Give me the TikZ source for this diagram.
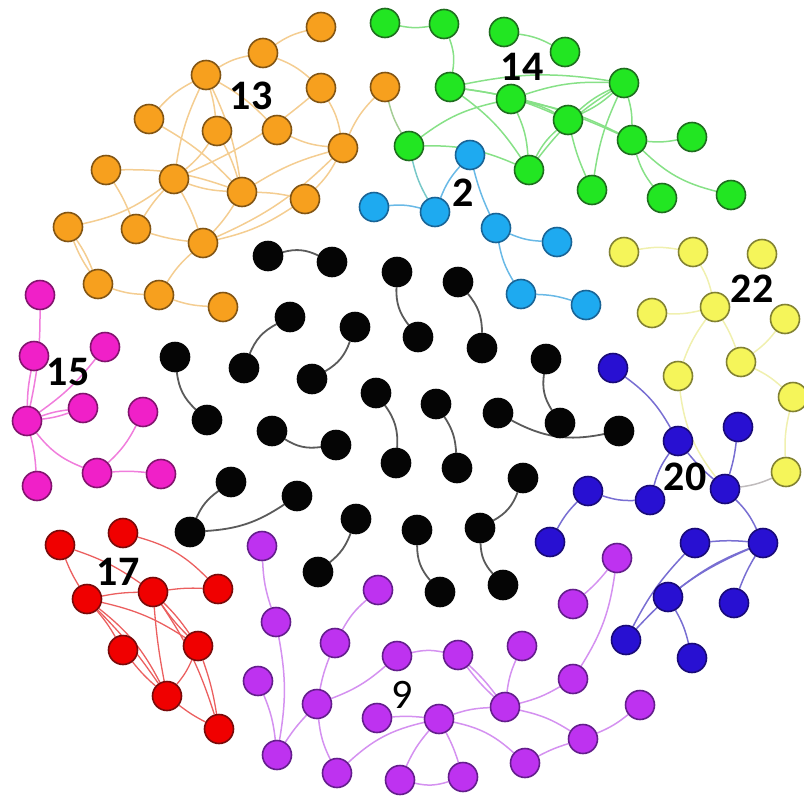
\documentclass[tikz,border=0pt]{standalone}
\usepackage{fontspec}
\setmainfont{Carlito}
\usetikzlibrary{backgrounds}
\definecolor{orF}{RGB}{247,160,30}\definecolor{orD}{RGB}{130,85,20}\definecolor{orE}{RGB}{244,205,145}
\definecolor{grF}{RGB}{34,230,34}\definecolor{grD}{RGB}{30,110,30}\definecolor{grE}{RGB}{135,225,135}
\definecolor{blF}{RGB}{30,170,240}\definecolor{blD}{RGB}{25,100,150}\definecolor{blE}{RGB}{105,185,230}
\definecolor{yeF}{RGB}{245,245,90}\definecolor{yeD}{RGB}{130,130,50}\definecolor{yeE}{RGB}{240,240,175}
\definecolor{maF}{RGB}{240,32,200}\definecolor{maD}{RGB}{130,20,110}\definecolor{maE}{RGB}{240,125,220}
\definecolor{reF}{RGB}{240,0,0}\definecolor{reD}{RGB}{120,10,10}\definecolor{reE}{RGB}{235,95,95}
\definecolor{puF}{RGB}{190,50,240}\definecolor{puD}{RGB}{100,30,140}\definecolor{puE}{RGB}{212,145,240}
\definecolor{dbF}{RGB}{40,16,210}\definecolor{dbD}{RGB}{25,10,120}\definecolor{dbE}{RGB}{120,110,210}
\definecolor{bkF}{RGB}{5,5,5}\definecolor{bkE}{RGB}{90,90,90}
\definecolor{mixE}{RGB}{165,205,150}\definecolor{tealE}{RGB}{120,200,200}
\begin{document}
\begin{tikzpicture}[x=1pt,y=-1pt,
  nd/.style={circle,inner sep=0pt,minimum size=29pt,line width=1.6pt},
  on/.style={nd,fill=orF,draw=orD}, oe/.style={draw=orE,line width=1.5pt},
  gn/.style={nd,fill=grF,draw=grD}, ge/.style={draw=grE,line width=1.5pt},
  bn/.style={nd,fill=blF,draw=blD}, be/.style={draw=blE,line width=1.5pt},
  yn/.style={nd,fill=yeF,draw=yeD}, ye/.style={draw=yeE,line width=1.5pt},
  mn/.style={nd,fill=maF,draw=maD}, me/.style={draw=maE,line width=1.5pt},
  rn/.style={nd,fill=reF,draw=reD}, re/.style={draw=reE,line width=1.3pt},
  pn/.style={nd,fill=puF,draw=puD}, pe/.style={draw=puE,line width=1.5pt},
  dn/.style={nd,fill=dbF,draw=dbD}, de/.style={draw=dbE,line width=1.5pt},
  kn/.style={nd,fill=bkF,draw=bkF}, ke/.style={draw=bkE,line width=1.8pt},
  lbl/.style={font=\fontsize{42}{42}\selectfont\bfseries,text=black,inner sep=0pt},
  lblr/.style={font=\fontsize{42}{42}\selectfont,text=black,inner sep=0pt}]
\useasboundingbox (0,0) rectangle (804,801);
% orange
\foreach \n/\x/\y in {o1/321/27,o2/263/53,o3/206/75,o4/321/88,o5/149/119,o6/217/131,o7/277/130,o8/385/87,o9/343/148,o10/106/170,o11/174/179,o12/242/192,o13/305/199,o14/68/227,o15/136/229,o16/203/243,o17/98/284,o18/159/295,o19/223/307}
  \node[on] (\n) at (\x,\y) {};
% green
\foreach \n/\x/\y in {g1/385/23,g2/444/24,g3/504/32,g4/565/52,g5/450/87,g6/511/99,g7/624/83,g8/568/120,g9/632/140,g10/692/137,g11/409/146,g12/529/170,g13/592/190,g14/662/198,g15/731/195}
  \node[gn] (\n) at (\x,\y) {};
% blue
\foreach \n/\x/\y in {b1/470/155,b2/374/207,b3/435/212,b4/496/228,b5/557/242,b6/521/294,b7/586/305}
  \node[bn] (\n) at (\x,\y) {};
% yellow
\foreach \n/\x/\y in {y1/624/252,y2/693/252,y3/762/254,y4/652/313,y5/715/307,y6/785/319,y7/741/362,y8/678/376,y9/793/397,y10/786/472}
  \node[yn] (\n) at (\x,\y) {};
% dark blue
\foreach \n/\x/\y in {d1/613/368,d2/678/441,d3/738/427,d4/588/491,d5/650/500,d6/725/489,d7/550/542,d8/695/543,d9/763/543,d10/668/597,d11/734/603,d12/626/640,d13/692/658}
  \node[dn] (\n) at (\x,\y) {};
% magenta
\foreach \n/\x/\y in {m1/40/295,m2/34/356,m3/105/347,m4/27/421,m5/83/408,m6/143/412,m7/37/486,m8/97/473,m9/161/474}
  \node[mn] (\n) at (\x,\y) {};
% red
\foreach \n/\x/\y in {r1/60/545,r2/123/533,r3/87/599,r4/153/592,r5/218/589,r6/123/650,r7/198/646,r8/167/696,r9/219/729}
  \node[rn] (\n) at (\x,\y) {};
% purple
\foreach \n/\x/\y in {p1/262/546,p2/378/590,p3/617/558,p4/573/604,p5/276/622,p6/335/643,p7/397/656,p8/458/655,p9/522/646,p10/258/681,p11/317/704,p12/573/679,p13/377/718,p14/439/719,p15/505/707,p16/640/705,p17/277/755,p18/337/773,p19/400/780,p20/463/777,p21/525/763,p22/583/739}
  \node[pn] (\n) at (\x,\y) {};
% black
\foreach \n/\x/\y in {k1/268/256,k2/332/262,k3/397/272,k4/418/337,k5/458/282,k6/482/348,k7/290/317,k8/244/368,k9/355/327,k10/312/379,k11/175/357,k12/207/420,k13/546/359,k14/560/423,k15/498/413,k16/619/431,k17/376/393,k18/396/463,k19/436/404,k20/457/468,k21/272/431,k22/336/445,k23/231/482,k24/190/532,k25/297/496,k26/523/478,k27/480/528,k28/503/585,k29/356/519,k30/318/572,k31/417/530,k32/440/592}
  \node[kn] (\n) at (\x,\y) {};

\begin{scope}[on background layer]
% orange edges
\draw[oe] (o1) to[bend right=10] (o2);
\draw[oe] (o2) to[bend right=10] (o3);
\draw[oe] (o2) to[bend left=10] (o4);
\draw[oe] (o3) to[bend right=10] (o5);
\draw[oe] (o3) to[bend left=5] (o6);
\draw[oe] (o3) to[bend left=8] (o12);
\draw[oe] (o3) to[bend right=8] (o11);
\draw[oe] (o3) to[bend left=8] (o7);
\draw[oe] (o4) to[bend left=10] (o9);
\draw[oe] (o4) to[bend left=8] (o11);
\draw[oe] (o5) to[bend left=8] (o12);
\draw[oe] (o6) to[bend left=8] (o11);
\draw[oe] (o6) to[bend left=5] (o12);
\draw[oe] (o7) to[bend right=10] (o9);
\draw[oe] (o8) to[bend right=10] (o9);
\draw[oe] (o9) to[bend left=8] (o13);
\draw[oe] (o9) to[bend right=8] (o12);
\draw[oe] (o9) to[bend left=10] (o16);
\draw[oe] (o10) to[bend left=10] (o12);
\draw[oe] (o10) to[bend left=5] (o15);
\draw[oe] (o11) to[bend left=12] (o14);
\draw[oe] (o11) to[bend right=5] (o15);
\draw[oe] (o11) to[bend left=5] (o16);
\draw[oe] (o11) to[bend right=8] (o12);
\draw[oe] (o12) to[bend left=5] (o13);
\draw[oe] (o12) to[bend left=5] (o16);
\draw[oe] (o13) to[bend left=10] (o16);
\draw[oe] (o14) to[bend left=6] (o17);
\draw[oe] (o14) to[bend right=6] (o17);
\draw[oe] (o15) to[bend right=5] (o16);
\draw[oe] (o16) to[bend right=8] (o18);
\draw[oe] (o17) to[bend right=8] (o18);
\draw[oe] (o18) to[bend right=8] (o19);
% cross edges
\draw[draw=mixE,line width=1.5pt] (o8) to[bend right=8] (g11);
\draw[draw=tealE,line width=1.5pt] (g11) to[bend right=8] (b3);
% green edges
\draw[ge] (g1) to[bend right=10] (g2);
\draw[ge] (g2) to[bend left=15] (g5);
\draw[ge] (g3) to[bend left=10] (g4);
\draw[ge] (g5) to[bend left=10] (g12);
\draw[ge] (g5) to[bend left=8] (g8);
\draw[ge] (g5) to[bend left=8] (g9);
\draw[ge] (g5) to[bend left=10] (g7);
\draw[ge] (g6) to[bend left=8] (g8);
\draw[ge] (g6) to[bend left=10] (g7);
\draw[ge] (g6) to[bend left=10] (g12);
\draw[ge] (g6) to[bend left=8] (g9);
\draw[ge] (g7) to[bend right=8] (g8);
\draw[ge] (g7) to[bend left=8] (g8);
\draw[ge] (g7) to[bend right=10] (g12);
\draw[ge] (g7) to[bend right=8] (g13);
\draw[ge] (g7) to[bend left=8] (g9);
\draw[ge] (g8) to[bend right=10] (g12);
\draw[ge] (g8) to[bend right=5] (g13);
\draw[ge] (g9) to[bend right=8] (g10);
\draw[ge] (g9) to[bend right=10] (g14);
\draw[ge] (g9) to[bend right=15] (g15);
\draw[ge] (g11) to[bend left=12] (g6);
\draw[ge] (g11) to[bend left=12] (g12);
% blue edges
\draw[be] (b2) to[bend left=10] (b3);
\draw[be] (b3) to[bend left=10] (b1);
\draw[be] (b1) to[bend right=5] (b4);
\draw[be] (b4) to[bend right=10] (b5);
\draw[be] (b4) to[bend right=10] (b6);
\draw[be] (b6) to[bend left=8] (b7);
% yellow edges
\draw[ye] (y1) to[bend left=10] (y2);
\draw[ye] (y2) to[bend left=8] (y5);
\draw[ye] (y4) to[bend right=8] (y5);
\draw[ye] (y5) to[bend left=5] (y7);
\draw[ye] (y5) to[bend right=8] (y8);
\draw[ye] (y7) to[bend right=8] (y6);
\draw[ye] (y7) to[bend left=8] (y9);
\draw[ye] (y9) to[bend right=8] (y10);
\draw[ye] (y8) to[bend right=15] (d6);
\draw[draw=yeE!60!dbE,line width=1.5pt] (y10) to[bend left=8] (d6);
% dark blue edges
\draw[de] (d1) to[bend left=12] (d2);
\draw[de] (d2) to[bend right=10] (d5);
\draw[de] (d2) to[bend right=5] (d6);
\draw[de] (d3) to[bend left=5] (d6);
\draw[de] (d4) to[bend right=10] (d5);
\draw[de] (d4) to[bend right=8] (d7);
\draw[de] (d6) to[bend left=10] (d9);
\draw[de] (d8) to[bend left=5] (d9);
\draw[de] (d9) to[bend right=12] (d12);
\draw[de] (d9) to[bend right=8] (d10);
\draw[de] (d10) to[bend left=8] (d13);
\draw[de] (d9) to[bend right=5] (d11);
\draw[de] (d8) to[bend right=8] (d12);
% magenta edges
\draw[me] (m1) to[bend left=6] (m4);
\draw[me] (m2) to[bend right=5] (m4);
\draw[me] (m3) to[bend left=8] (m4);
\draw[me] (m4) to[bend left=6] (m5);
\draw[me] (m4) to[bend right=6] (m5);
\draw[me] (m4) to[bend left=5] (m7);
\draw[me] (m4) to[bend right=15] (m8);
\draw[me] (m6) to[bend left=10] (m8);
\draw[me] (m8) to[bend left=5] (m9);
% red edges
\draw[re] (r1) to[bend right=5] (r3);
\draw[re] (r1) to[bend left=8] (r4);
\draw[re] (r2) to[bend left=15] (r5);
\draw[re] (r3) to[bend left=5] (r4);
\draw[re] (r4) to[bend left=5] (r5);
\draw[re] (r3) to[bend left=5] (r6);
\draw[re] (r3) to[bend left=5] (r8);
\draw[re] (r3) to[bend left=12] (r8);
\draw[re] (r3) to[bend left=10] (r7);
\draw[re] (r4) to[bend left=5] (r7);
\draw[re] (r4) to[bend right=5] (r7);
\draw[re] (r4) to[bend right=3] (r8);
\draw[re] (r6) to[bend right=5] (r8);
\draw[re] (r7) to[bend left=8] (r8);
\draw[re] (r7) to[bend left=5] (r9);
\draw[re] (r8) to[bend right=5] (r9);
\draw[re] (r4) to[bend left=8] (r9);
% purple edges
\draw[pe] (p1) to[bend right=8] (p5);
\draw[pe] (p5) to[bend left=10] (p17);
\draw[pe] (p10) to[bend left=8] (p17);
\draw[pe] (p2) to[bend right=10] (p6);
\draw[pe] (p6) to[bend right=5] (p11);
\draw[pe] (p11) to[bend right=5] (p17);
\draw[pe] (p11) to[bend right=10] (p18);
\draw[pe] (p11) to[bend right=10] (p7);
\draw[pe] (p7) to[bend left=12] (p8);
\draw[pe] (p8) to[bend left=5] (p15);
\draw[pe] (p8) to[bend right=5] (p15);
\draw[pe] (p9) to[bend right=8] (p15);
\draw[pe] (p13) to[bend left=5] (p14);
\draw[pe] (p18) to[bend left=15] (p14);
\draw[pe] (p14) to[bend left=8] (p15);
\draw[pe] (p14) to[bend right=8] (p19);
\draw[pe] (p14) to[bend left=5] (p20);
\draw[pe] (p19) to[bend right=15] (p20);
\draw[pe] (p14) to[bend left=15] (p21);
\draw[pe] (p15) to[bend left=10] (p22);
\draw[pe] (p15) to[bend right=8] (p12);
\draw[pe] (p21) to[bend left=5] (p22);
\draw[pe] (p22) to[bend right=8] (p16);
\draw[pe] (p12) to[bend right=12] (p3);
\draw[pe] (p3) to[bend left=5] (p4);
% black edges
\draw[ke] (k1) to[bend left=20] (k2);
\draw[ke] (k3) to[bend right=20] (k4);
\draw[ke] (k5) to[bend left=20] (k6);
\draw[ke] (k7) to[bend right=20] (k8);
\draw[ke] (k9) to[bend left=20] (k10);
\draw[ke] (k11) to[bend right=20] (k12);
\draw[ke] (k13) to[bend right=20] (k14);
\draw[ke] (k15) to[bend right=20] (k16);
\draw[ke] (k17) to[bend left=20] (k18);
\draw[ke] (k19) to[bend left=15] (k20);
\draw[ke] (k21) to[bend right=20] (k22);
\draw[ke] (k23) to[bend right=15] (k24);
\draw[ke] (k24) to[bend right=15] (k25);
\draw[ke] (k26) to[bend left=20] (k27);
\draw[ke] (k27) to[bend right=20] (k28);
\draw[ke] (k29) to[bend left=15] (k30);
\draw[ke] (k31) to[bend right=20] (k32);
\end{scope}
% labels
\node[lbl] (l13) at (251,96) {13};
\node[lbl] (l14) at (522,67) {14};
\node[lbl] (l2) at (463,193) {2};
\node[lbl] (l22) at (752,289) {22};
\node[lbl] (l15) at (68,372) {15};
\node[lbl] (l20) at (685,477) {20};
\node[lbl] (l17) at (118,572) {17};
\node[lblr] (l9) at (402,695) {9};
\end{tikzpicture}
\end{document}
